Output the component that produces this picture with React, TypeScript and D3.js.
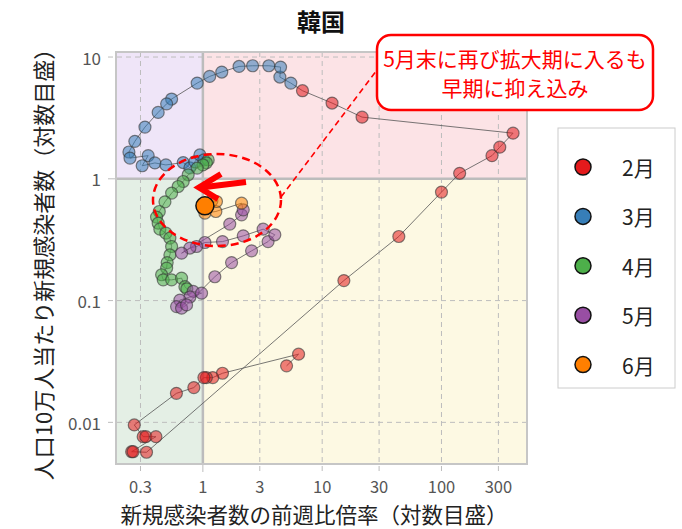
import React from "react";
import * as d3 from "d3";

// Weekly new cases per 100k population vs. week-over-week ratio, Korea, Feb–Jun
const months = ["2月", "3月", "4月", "5月", "6月"];
const monthColors = ["#e41a1c", "#377eb8", "#4daf4a", "#984ea3", "#ff7f00"];

const febRatio = [5.03, 6.34, 1.46, 1.21, 1.07, 1.02, 0.84, 0.6, 0.266, 0.316, 0.333, 0.404, 0.253, 0.26, 0.337, 15.2, 43.9, 100, 142, 265, 308, 398, 21.6, 12.1, 6.84];
const febCases = [0.0291, 0.0363, 0.0253, 0.0233, 0.0233, 0.0233, 0.0193, 0.0173, 0.00952, 0.00763, 0.00763, 0.00763, 0.00574, 0.00574, 0.00568, 0.146, 0.336, 0.778, 1.11, 1.55, 1.82, 2.37, 3.21, 4.19, 5.29];

const marRatio = [5.46, 4.42, 4.48, 3.57, 2.61, 2.01, 1.44, 1.14, 0.896, 0.547, 0.497, 0.422, 0.327, 0.269, 0.24, 0.245, 0.348, 0.31, 0.396, 0.49, 0.684, 0.778, 0.857, 0.944, 1.02];
const marCases = [6.11, 6.85, 8.27, 8.48, 8.48, 8.37, 7.53, 6.93, 6.11, 4.52, 4.13, 3.51, 2.66, 2.03, 1.66, 1.48, 1.55, 1.28, 1.35, 1.3, 1.36, 1.23, 1.38, 1.57, 1.43];

const aprRatio = [1.108, 1.07, 1.0, 0.896, 0.753, 0.684, 0.621, 0.547, 0.481, 0.431, 0.409, 0.422, 0.436, 0.49, 0.529, 0.547, 0.529, 0.502, 0.497, 0.451, 0.465, 0.547, 0.663, 0.707, 0.734];
const aprCases = [1.43, 1.354, 1.3, 1.224, 1.079, 0.95, 0.865, 0.763, 0.647, 0.539, 0.485, 0.432, 0.386, 0.358, 0.326, 0.278, 0.237, 0.205, 0.185, 0.163, 0.148, 0.148, 0.153, 0.13, 0.125];

const mayRatio = [0.829, 0.975, 0.778, 0.642, 0.602, 0.663, 0.73, 1.26, 1.74, 2.56, 3.52, 4.01, 3.2, 2.18, 1.46, 1.04, 0.885, 0.778, 0.663, 1.68, 2.11, 2.18];
const mayCases = [0.119, 0.115, 0.107, 0.101, 0.0893, 0.0866, 0.0922, 0.157, 0.205, 0.256, 0.305, 0.347, 0.386, 0.34, 0.305, 0.3, 0.278, 0.27, 0.245, 0.425, 0.506, 0.556];

const junRatio = [2.11, 1.285, 1.04, 1.19, 1.3, 1.04];
const junCases = [0.631, 0.539, 0.523, 0.66, 0.651, 0.6];

const xTicks = [0.3, 1, 3, 10, 30, 100, 300];
const yTicks = [0.01, 0.1, 1, 10];

const title = "韓国";
const xLabel = "新規感染者数の前週比倍率（対数目盛）";
const yLabel = "人口10万人当たり新規感染者数（対数目盛）";
const calloutLines = ["5月末に再び拡大期に入るも", "早期に抑え込み"];

const FONT = "'Noto Sans CJK JP', 'Noto Sans', sans-serif";

type Pt = { x: number; y: number; m: number };

const seriesRatio = [febRatio, marRatio, aprRatio, mayRatio, junRatio];
const seriesCases = [febCases, marCases, aprCases, mayCases, junCases];

const points: Pt[] = [];
seriesRatio.forEach((arr, m) =>
  arr.forEach((r, i) => points.push({ x: r, y: seriesCases[m][i], m }))
);

export default function App() {
  const W = 682;
  const H = 529;
  const left = 116, right = 527, top = 52, bottom = 464;

  const x = d3.scaleLog().domain([0.187, 521]).range([left, right]);
  const y = d3.scaleLog().domain([0.00455, 11]).range([bottom, top]);

  const x1 = x(1);
  const y1 = y(1);

  const line = d3
    .line<Pt>()
    .x((d) => x(d.x))
    .y((d) => y(d.y));

  const last = points[points.length - 1];
  const body = points.slice(0, -1);

  // callout geometry
  const ell = { cx: 217, cy: 200, rx: 64, ry: 46 };
  const box = { x: 377, y: 35, w: 276, h: 75 };

  return (
    <svg
      width={W}
      height={H}
      style={{ position: "absolute", left: 0, top: 0, background: "#fff" }}
      fontFamily={FONT}
    >
      {/* quadrant backgrounds */}
      <rect x={left} y={top} width={x1 - left} height={y1 - top} fill="#efe5f8" />
      <rect x={x1} y={top} width={right - x1} height={y1 - top} fill="#fce3e6" />
      <rect x={left} y={y1} width={x1 - left} height={bottom - y1} fill="#e4efe5" />
      <rect x={x1} y={y1} width={right - x1} height={bottom - y1} fill="#fdf9e3" />

      {/* grid */}
      {xTicks.filter((t) => t !== 1).map((t) => (
        <line key={"gx" + t} x1={x(t)} x2={x(t)} y1={top} y2={bottom + 8}
          stroke="#bdbdbd" strokeWidth={1} strokeDasharray="5,4" />
      ))}
      {yTicks.filter((t) => t !== 1).map((t) => (
        <line key={"gy" + t} x1={left - 8} x2={right} y1={y(t)} y2={y(t)}
          stroke="#bdbdbd" strokeWidth={1} strokeDasharray="5,4" />
      ))}
      <line x1={x1} x2={x1} y1={bottom} y2={bottom + 8} stroke="#bdbdbd" />
      <line x1={left - 8} x2={left} y1={y1} y2={y1} stroke="#bdbdbd" />

      {/* quadrant dividers and frame */}
      <line x1={x1} x2={x1} y1={top} y2={bottom} stroke="#bcbcbc" strokeWidth={2.5} />
      <line x1={left} x2={right} y1={y1} y2={y1} stroke="#bcbcbc" strokeWidth={2.5} />
      <rect x={left} y={top} width={right - left} height={bottom - top}
        fill="none" stroke="#c6c6c6" strokeWidth={2} />

      {/* tick labels */}
      {xTicks.map((t) => (
        <text key={"tx" + t} x={x(t)} y={486} textAnchor="middle"
          dominantBaseline="central" fontSize={16.5} fill="#555">{String(t)}</text>
      ))}
      {yTicks.map((t) => (
        <text key={"ty" + t} x={101} y={y(t)} textAnchor="end"
          dominantBaseline="central" fontSize={17} fill="#555">{String(t)}</text>
      ))}

      {/* trajectory */}
      <path d={line(points) || ""} fill="none" stroke="#555" strokeWidth={0.8} />
      {body.map((d, i) => (
        <circle key={"p" + i} cx={x(d.x)} cy={y(d.y)} r={6}
          fill={monthColors[d.m]} fillOpacity={0.55}
          stroke="#333" strokeOpacity={0.6} strokeWidth={1.2} />
      ))}
      <circle cx={x(last.x)} cy={y(last.y)} r={9}
        fill={monthColors[last.m]} stroke="#111" strokeWidth={1.5} />

      {/* annotation */}
      <ellipse cx={ell.cx} cy={ell.cy} rx={ell.rx} ry={ell.ry} fill="none"
        stroke="#ff0000" strokeWidth={2.5} strokeDasharray="8,5" />
      <line x1={281} y1={197} x2={377} y2={70} stroke="#ff0000"
        strokeWidth={1.6} strokeDasharray="6,4" />
      <g stroke="#ff0000" strokeWidth={6} fill="none" strokeLinejoin="miter">
        <line x1={246} y1={182} x2={201} y2={187.5} />
        <polyline points="221,174 199,187.5 218,199" />
      </g>
      <rect x={box.x} y={box.y} width={box.w} height={box.h} rx={14} ry={14}
        fill="#fff" stroke="#ff0000" strokeWidth={2.5} />
      {calloutLines.map((s, i) => (
        <text key={"c" + i} x={box.x + box.w / 2} y={58 + i * 29}
          textAnchor="middle" dominantBaseline="central" fontSize={21} fill="#ff0000">{s}</text>
      ))}

      {/* title and axis titles */}
      <text x={321} y={20} textAnchor="middle" dominantBaseline="central"
        fontSize={24} fontWeight="bold" fill="#111">{title}</text>
      <text x={314} y={513} textAnchor="middle" dominantBaseline="central"
        fontSize={21.5} fill="#222">{xLabel}</text>
      <text transform="translate(42,259) rotate(-90)" textAnchor="middle"
        dominantBaseline="central" fontSize={22} fill="#222">{yLabel}</text>

      {/* legend */}
      <rect x={558} y={128} width={117} height={260} fill="#fff" stroke="#cccccc" strokeWidth={1} />
      {months.map((mName, i) => (
        <g key={mName} transform={`translate(0,${167 + i * 49.4})`}>
          <circle cx={583} cy={0} r={8} fill={monthColors[i]} stroke="#111" strokeWidth={1.5} />
          <text x={622} y={0} dominantBaseline="central" fontSize={21} fill="#222">{mName}</text>
        </g>
      ))}
    </svg>
  );
}
